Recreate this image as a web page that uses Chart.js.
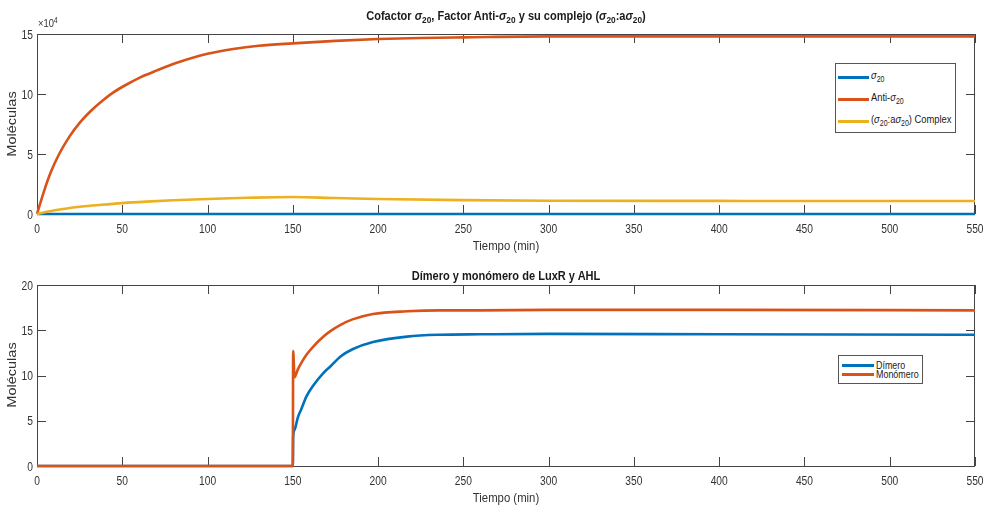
<!DOCTYPE html>
<html>
<head>
<meta charset="utf-8">
<script src="https://cdn.jsdelivr.net/npm/chart.js@4.4.1/dist/chart.umd.min.js"></script>
<style>
  body { margin: 0; background: #fff; width: 984px; height: 511px; overflow: hidden; position: relative; }
  canvas { position: absolute; left: 0; }
  .txt { position: absolute; white-space: nowrap; color: #1a1a1a; font-family: 'Liberation Sans', Arial, sans-serif; line-height: 1; }
  .title { font-weight: bold; font-size: 13px; transform: translateX(-50%) scaleX(0.85); }
  .xlab { font-size: 13.5px; transform: translateX(-50%) scaleX(0.84); color: #333; }
  .ylab { font-size: 14.5px; color: #333; transform: translate(-50%, -50%) rotate(-90deg) scaleY(0.82); }
  .s { font-size: 75%; position: relative; top: 0.35em; }
  .g { font-style: italic; }
  .legend { position: absolute; border: 1px solid #555; background: #fff; font-family: 'Liberation Sans', Arial, sans-serif; color: #1a1a1a; }
  .item { position: absolute; white-space: nowrap; line-height: 1; }
  .item .lab { display: inline-block; transform: scaleX(0.85); transform-origin: 0 0; }
  .item i.sw { position: absolute; height: 3px; }
</style>
</head>
<body>
<canvas id="chart-top" width="984" height="255" style="top:0"></canvas>
<canvas id="chart-bot" width="984" height="256" style="top:255px"></canvas>

<div class="txt title" style="left:506px; top:9px">Cofactor <span class="g">σ</span><span class="s">20</span>, Factor Anti-<span class="g">σ</span><span class="s">20</span> y su complejo (<span class="g">σ</span><span class="s">20</span>:a<span class="g">σ</span><span class="s">20</span>)</div>
<div class="txt" style="left:38px; top:18px; font-size:11px; color:#333; transform:scaleX(0.85); transform-origin:0 0">×10<span style="font-size:75%; position:relative; top:-0.5em">4</span></div>
<div class="txt xlab" style="left:506px; top:239px">Tiempo (min)</div>
<div class="txt ylab" style="left:12px; top:124px">Moléculas</div>

<div class="txt title" style="left:506px; top:269px">Dímero y monómero de LuxR y AHL</div>
<div class="txt xlab" style="left:506px; top:491px">Tiempo (min)</div>
<div class="txt ylab" style="left:12px; top:375px">Moléculas</div>

<div class="legend" style="left:835px; top:63px; width:119px; height:68px; font-size:11px">
  <div class="item" style="left:35px; top:6px"><i class="sw" style="left:-33px; top:6px; width:31px; background:#0072BD"></i><span class="lab"><span class="g">σ</span><span class="s">20</span></span></div>
  <div class="item" style="left:35px; top:28px"><i class="sw" style="left:-33px; top:6px; width:31px; background:#D95319"></i><span class="lab">Anti-<span class="g">σ</span><span class="s">20</span></span></div>
  <div class="item" style="left:35px; top:50px"><i class="sw" style="left:-33px; top:6px; width:31px; background:#EDB120"></i><span class="lab">(<span class="g">σ</span><span class="s">20</span>:a<span class="g">σ</span><span class="s">20</span>) Complex</span></div>
</div>
<div class="legend" style="left:838px; top:355px; width:83px; height:27px; font-size:10.5px">
  <div class="item" style="left:37px; top:3.5px"><i class="sw" style="left:-34px; top:4px; width:32px; background:#0072BD"></i><span class="lab">Dímero</span></div>
  <div class="item" style="left:37px; top:13px"><i class="sw" style="left:-34px; top:4px; width:32px; background:#D95319"></i><span class="lab">Monómero</span></div>
</div>

<script>
const blue = '#0072BD';
const orange = '#D95319';
const yellow = '#EDB120';
const ink = '#333';
const tickFamily = "'Liberation Sans', Arial, sans-serif";

// x axis (min)
const xMin = 0, xMax = 550, xStep = 50;

// top panel: molecules
const tSigma = [0, 150, 300, 550];
const sigma20 = [0, 0, 0, 0];
const tAnti = [0, 4, 8, 13, 19, 25, 32, 38, 45, 52, 60, 70, 82, 100, 115, 130, 150, 175, 200, 225, 250, 300, 400, 550];
const antiSigma20 = [0, 18500, 34500, 50000, 64500, 76000, 86500, 94000, 101500, 107500, 113500, 119500, 126000, 133500, 137500, 140200, 142200, 144300, 145800, 146700, 147200, 148000, 148000, 148000];
const tComplejo = [0, 4.5, 8.4, 13.3, 18.2, 28, 37.8, 50, 64, 80, 100, 123, 150, 175, 200, 250, 300, 400, 550];
const complejo = [0, 1400, 2500, 3700, 4800, 6400, 7700, 9100, 10300, 11400, 12500, 13500, 14200, 13300, 12500, 11600, 11100, 10900, 10800];
const yTopMax = 150000, yTopStep = 50000;

// bottom panel: LuxR / AHL
const tBot = [0, 150, 150.2, 151, 153, 155, 158, 162, 168, 172, 178, 185, 197, 217, 236, 260, 300, 400, 550];
const dimero = [0, 0, 3.2, 4.0, 5.4, 6.3, 7.7, 8.9, 10.3, 11.0, 12.1, 12.9, 13.7, 14.3, 14.5, 14.55, 14.6, 14.55, 14.5];
const monomero = [0, 0, 12.7, 9.8, 10.7, 11.4, 12.3, 13.2, 14.3, 14.9, 15.6, 16.2, 16.8, 17.1, 17.2, 17.2, 17.25, 17.25, 17.2];
const yBotMax = 20, yBotStep = 5;

function pts(t, v) { return t.map((x, i) => ({ x: x, y: v[i] })); }

// later series sit on top, like MATLAB
function line(label, t, v, color, idx) {
  return {
    label: label,
    data: pts(t, v),
    borderColor: color,
    backgroundColor: color,
    borderWidth: 2.6,
    pointRadius: 0,
    cubicInterpolationMode: 'monotone',
    fill: false,
    clip: 4,
    order: -idx
  };
}

// MATLAB style box, inward ticks on all four sides, narrow tick labels
const boxTicks = {
  id: 'boxTicks',
  beforeDatasetsDraw(chart) {
    const { ctx, chartArea: a, scales: { x, y } } = chart;
    ctx.save();
    ctx.strokeStyle = '#444';
    ctx.lineWidth = 1;
    ctx.strokeRect(a.left + 0.5, a.top + 0.5, a.right - a.left - 1, a.bottom - a.top);
    ctx.beginPath();
    x.ticks.forEach(t => {
      const px = Math.round(x.getPixelForValue(t.value)) + 0.5;
      ctx.moveTo(px, a.bottom); ctx.lineTo(px, a.bottom - 9);
      ctx.moveTo(px, a.top); ctx.lineTo(px, a.top + 9);
    });
    y.ticks.forEach(t => {
      const py = Math.round(y.getPixelForValue(t.value)) + 0.5;
      ctx.moveTo(a.left, py); ctx.lineTo(a.left + 9, py);
      ctx.moveTo(a.right, py); ctx.lineTo(a.right - 9, py);
    });
    ctx.stroke();

    ctx.fillStyle = ink;
    ctx.font = '12.5px ' + tickFamily;
    ctx.textBaseline = 'alphabetic';
    ctx.textAlign = 'center';
    x.ticks.forEach(t => {
      ctx.save();
      ctx.translate(x.getPixelForValue(t.value), a.bottom + 19);
      ctx.scale(0.82, 1);
      ctx.fillText(t.label, 0, 0);
      ctx.restore();
    });
    ctx.textAlign = 'right';
    y.ticks.forEach(t => {
      ctx.save();
      ctx.translate(a.left - 4, y.getPixelForValue(t.value) + 4.5);
      ctx.scale(0.82, 1);
      ctx.fillText(t.label, 0, 0);
      ctx.restore();
    });
    ctx.restore();
  }
};

function options(yMax, yStep, yFmt, padTop, xHeight) {
  return {
    responsive: false,
    animation: false,
    layout: { padding: { top: padTop, right: 9, left: 0, bottom: 0 } },
    plugins: { legend: { display: false }, tooltip: { enabled: false } },
    scales: {
      x: {
        type: 'linear', min: xMin, max: xMax,
        grid: { display: false }, border: { display: false },
        ticks: { stepSize: xStep, display: false, autoSkip: false },
        afterFit(s) { s.height = xHeight; }
      },
      y: {
        min: 0, max: yMax,
        grid: { display: false }, border: { display: false },
        ticks: { stepSize: yStep, display: false, callback: yFmt },
        afterFit(s) { s.width = 37; }
      }
    }
  };
}

new Chart(document.getElementById('chart-top'), {
  type: 'line',
  data: {
    datasets: [
      line('σ20', tSigma, sigma20, blue, 0),
      line('Anti-σ20', tAnti, antiSigma20, orange, 1),
      line('(σ20:aσ20) Complex', tComplejo, complejo, yellow, 2)
    ]
  },
  options: options(yTopMax, yTopStep, v => String(v / 10000), 34, 41),
  plugins: [boxTicks]
});

new Chart(document.getElementById('chart-bot'), {
  type: 'line',
  data: {
    datasets: [
      line('Dímero', tBot, dimero, blue, 0),
      line('Monómero', tBot, monomero, orange, 1)
    ]
  },
  options: options(yBotMax, yBotStep, v => String(v), 30, 45),
  plugins: [boxTicks]
});
</script>
</body>
</html>
